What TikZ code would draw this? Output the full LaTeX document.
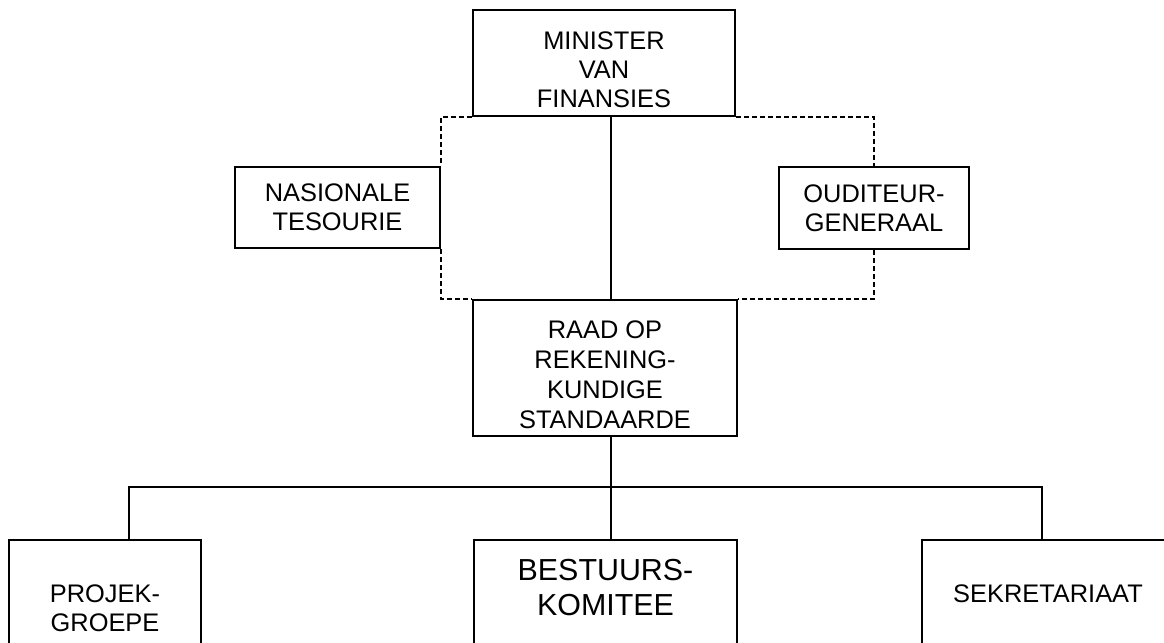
\documentclass[tikz,border=0pt]{standalone}
\usepackage{fontspec}
\setmainfont{Liberation Sans}
\usepackage{tikz}
\usetikzlibrary{positioning}

\begin{document}
\begin{tikzpicture}[
    x=0.5pt, y=-0.5pt,
    base/.style={draw=black,line width=1pt,fill=white,inner sep=2pt,align=center,rectangle,
                 font={\fontsize{12.7}{14.5}\selectfont}},
    txt/.style={align=center,inner sep=0pt,font={\fontsize{12.7}{14.5}\selectfont}},
    bigtxt/.style={align=center,inner sep=0pt,font={\fontsize{15.2}{17.5}\selectfont}},
    link/.style={line width=1pt},
    dotlink/.style={line width=1pt,dash pattern=on 2.5pt off 1.5pt},
]
    \useasboundingbox (0,0) rectangle (1164,643);
    \clip (0,0) rectangle (1164,643);

    % Nodes
    \node[base,minimum width=131pt,minimum height=53pt]   (minister)  at (604,63)    {\rule{0pt}{16pt}MINISTER\\VAN\\FINANSIES};
    \node[base,minimum width=102.5pt,minimum height=40.5pt] (tesourie) at (337.5,207.5) {NASIONALE\\TESOURIE};
    \node[base,minimum width=95pt,minimum height=41pt]    (ouditeur)  at (874,208)   {OUDITEUR-\\GENERAAL};
    \node[base,minimum width=132pt,minimum height=68pt,font={\fontsize{12.7}{15}\selectfont}] (raad) at (605,368) {\rule{0pt}{15.5pt}RAAD OP\\REKENING-\\KUNDIGE\\STANDAARDE};
    \node[base,anchor=north,minimum width=96pt,minimum height=80pt]     (projek)   at (105,539)   {};
    \node[base,anchor=north,minimum width=131.5pt,minimum height=80pt]  (bestuur)  at (605.5,539) {};
    \node[base,anchor=north west,minimum width=130pt,minimum height=80pt] (sekretariaat) at (921,539) {};

    % Text
    \node[txt]    (projektxt)  at (105,608.5)  {PROJEK-\\GROEPE};
    \node[bigtxt] (bestuurtxt) at (605.5,587.5) {BESTUURS-\\KOMITEE};
    \node[txt]    (sekrtxt)    at (1048,593.5) {SEKRETARIAAT};

    % Lines
    \coordinate (spine) at (611,0);
    \coordinate (barL)  at (129,487);
    \coordinate (barR)  at (1042,487);
    \draw[link] (minister.south -| spine) -- (raad.north -| spine);
    \draw[link] (raad.south -| spine) -- (bestuur.north -| spine);
    \draw[link] (barL |- projek.north) -- (barL) -- (barR) -- (barR |- sekretariaat.north);

    \draw[dotlink] (minister.south west) -| (tesourie.north east);
    \draw[dotlink] (tesourie.south east) |- (raad.north west);
    \draw[dotlink] (minister.south east) -| (ouditeur.north);
    \draw[dotlink] (ouditeur.south) |- (raad.north east);

\end{tikzpicture}
\end{document}
